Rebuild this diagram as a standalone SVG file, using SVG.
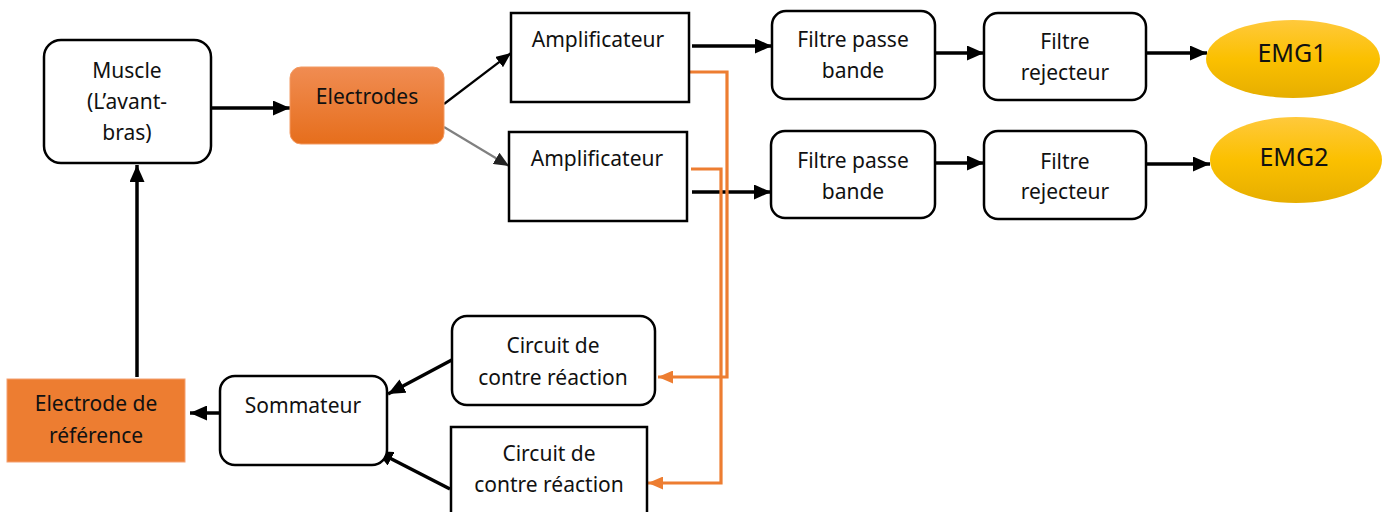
<svg xmlns="http://www.w3.org/2000/svg" width="1382" height="512" viewBox="0 0 1382 512">
  <defs>
    <linearGradient id="gradElectrodes" x1="0" y1="0" x2="0" y2="1">
      <stop offset="0" stop-color="#F08C52"/>
      <stop offset="1" stop-color="#E66E1C"/>
    </linearGradient>
    <linearGradient id="gradEmg" x1="0" y1="0" x2="0" y2="1">
      <stop offset="0" stop-color="#FFC93C"/>
      <stop offset="0.5" stop-color="#FBC000"/>
      <stop offset="1" stop-color="#E6AE00"/>
    </linearGradient>
    <marker id="ah" markerUnits="userSpaceOnUse" markerWidth="17" markerHeight="15" refX="17" refY="7.5" orient="auto">
      <path d="M0,0 L17,7.5 L0,15 Z" fill="#000"/>
    </marker>
    <marker id="ahSmall" markerUnits="userSpaceOnUse" markerWidth="15" markerHeight="13" refX="15" refY="6.5" orient="auto">
      <path d="M0,0 L15,6.5 L0,13 Z" fill="#000"/>
    </marker>
    <marker id="ahGray" markerUnits="userSpaceOnUse" markerWidth="15" markerHeight="13" refX="15" refY="6.5" orient="auto">
      <path d="M0,0 L15,6.5 L0,13 Z" fill="#222"/>
    </marker>
    <marker id="ahOrange" markerUnits="userSpaceOnUse" markerWidth="15" markerHeight="13" refX="15" refY="6.5" orient="auto">
      <path d="M0,0 L15,6.5 L0,13 Z" fill="#ED7D31"/>
    </marker>
  </defs>
  <style>
    .box { fill: #fff; stroke: #000; stroke-width: 2.5; }
    .lbl { font-family: "Noto Sans", "Open Sans", sans-serif; font-size: 21px; fill: #111; text-anchor: middle; }
    .big { font-size: 25px; }
    .wire { fill: none; stroke: #000; stroke-width: 3.5; }
    .thin { fill: none; stroke: #000; stroke-width: 2.2; }
    .gray { fill: none; stroke: #808080; stroke-width: 2.2; }
    .fb { fill: none; stroke: #ED7D31; stroke-width: 3.2; }
  </style>

  <rect width="1382" height="512" fill="#fff"/>

  <!-- connectors -->
  <g id="connectors">
    <line class="wire" x1="211" y1="108" x2="290" y2="108" marker-end="url(#ah)"/>
    <line class="thin" x1="444" y1="104" x2="511" y2="53" marker-end="url(#ahSmall)"/>
    <line class="gray" x1="444" y1="127" x2="509" y2="166" marker-end="url(#ahGray)"/>
    <line class="wire" x1="692" y1="46" x2="772" y2="46" marker-end="url(#ah)"/>
    <line class="wire" x1="692" y1="192" x2="771" y2="192" marker-end="url(#ah)"/>
    <line class="wire" x1="936" y1="53" x2="984" y2="53" marker-end="url(#ah)"/>
    <line class="wire" x1="1147" y1="53" x2="1207" y2="53" marker-end="url(#ah)"/>
    <line class="wire" x1="935" y1="163" x2="984" y2="163" marker-end="url(#ah)"/>
    <line class="wire" x1="1146" y1="164" x2="1210" y2="164" marker-end="url(#ah)"/>
    <!-- feedback paths -->
    <polyline class="fb" points="689,72 727,72 727,377 658,377" marker-end="url(#ahOrange)"/>
    <polyline class="fb" points="691,169 721,169 721,483 648,483" marker-end="url(#ahOrange)"/>
    <line class="wire" x1="463" y1="354" x2="388" y2="394" marker-end="url(#ah)"/>
    <line class="wire" x1="450" y1="489" x2="376" y2="451" marker-end="url(#ah)"/>
    <line class="wire" x1="220" y1="413" x2="190" y2="413" marker-end="url(#ah)"/>
    <line class="wire" x1="137" y1="377" x2="137" y2="165" marker-end="url(#ah)"/>
  </g>

  <g id="muscle">
    <rect class="box" x="44" y="40" width="167" height="123" rx="17"/>
    <text class="lbl" x="127" y="78">Muscle</text>
    <text class="lbl" x="127" y="109">(L’avant-</text>
    <text class="lbl" x="127" y="140">bras)</text>
  </g>

  <g id="electrodes">
    <rect x="290" y="67" width="154" height="77" rx="11" fill="url(#gradElectrodes)" stroke="#F39A62" stroke-width="1"/>
    <text class="lbl" x="367" y="104">Electrodes</text>
  </g>

  <g id="amp1">
    <rect class="box" x="511" y="13" width="178" height="89"/>
    <text class="lbl" x="598" y="47">Amplificateur</text>
  </g>

  <g id="amp2">
    <rect class="box" x="509" y="132" width="178" height="89"/>
    <text class="lbl" x="597" y="166">Amplificateur</text>
  </g>

  <g id="bandpass1">
    <rect class="box" x="772" y="11" width="163" height="88" rx="14"/>
    <text class="lbl" x="853" y="47">Filtre passe</text>
    <text class="lbl" x="853" y="78">bande</text>
  </g>

  <g id="notch1">
    <rect class="box" x="984" y="13" width="162" height="87" rx="14"/>
    <text class="lbl" x="1065" y="49">Filtre</text>
    <text class="lbl" x="1065" y="80">rejecteur</text>
  </g>

  <g id="emg1">
    <ellipse cx="1293" cy="59" rx="87" ry="39" fill="url(#gradEmg)"/>
    <text class="lbl big" x="1292" y="62">EMG1</text>
  </g>

  <g id="bandpass2">
    <rect class="box" x="771" y="131" width="164" height="87" rx="14"/>
    <text class="lbl" x="853" y="168">Filtre passe</text>
    <text class="lbl" x="853" y="199">bande</text>
  </g>

  <g id="notch2">
    <rect class="box" x="984" y="131" width="162" height="88" rx="14"/>
    <text class="lbl" x="1065" y="169">Filtre</text>
    <text class="lbl" x="1065" y="199">rejecteur</text>
  </g>

  <g id="emg2">
    <ellipse cx="1296" cy="160" rx="86" ry="43" fill="url(#gradEmg)"/>
    <text class="lbl big" x="1294" y="166">EMG2</text>
  </g>

  <g id="feedback1">
    <rect class="box" x="452" y="316" width="203" height="89" rx="15"/>
    <text class="lbl" x="553" y="353">Circuit de</text>
    <text class="lbl" x="553" y="385">contre réaction</text>
  </g>

  <g id="feedback2">
    <rect class="box" x="451" y="427" width="196" height="92"/>
    <text class="lbl" x="549" y="461">Circuit de</text>
    <text class="lbl" x="549" y="492">contre réaction</text>
  </g>

  <g id="summer">
    <rect class="box" x="220" y="376" width="167" height="89" rx="15"/>
    <text class="lbl" x="303" y="413">Sommateur</text>
  </g>

  <g id="reference-electrode">
    <rect x="7" y="379" width="178" height="83" fill="#ED7D31" stroke="#F4A070" stroke-width="1"/>
    <text class="lbl" x="96" y="411">Electrode de</text>
    <text class="lbl" x="96" y="443">référence</text>
  </g>
</svg>
